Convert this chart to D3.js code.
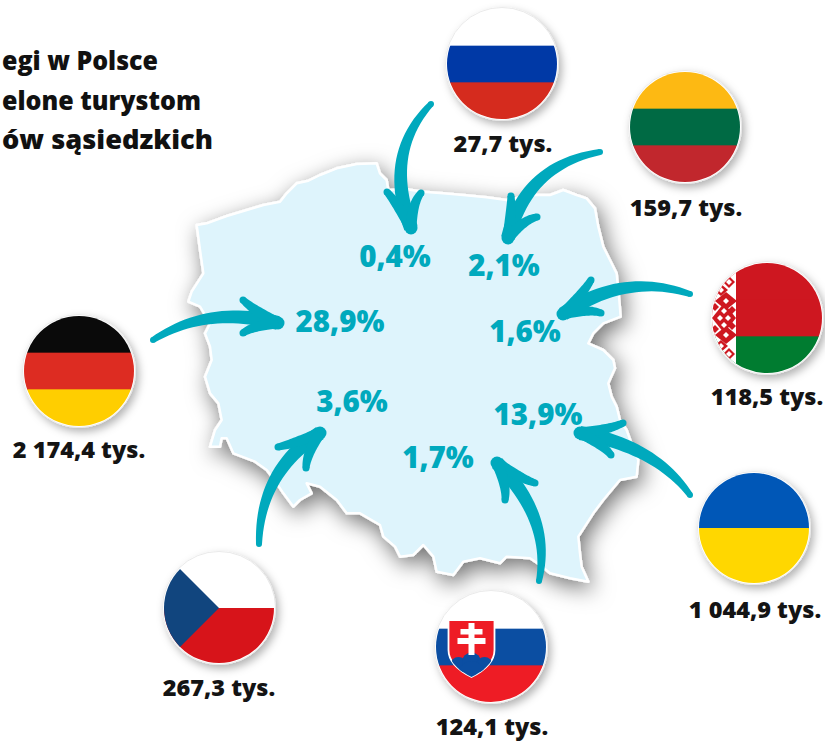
<!DOCTYPE html>
<html>
<head>
<meta charset="utf-8">
<script src="https://cdn.jsdelivr.net/npm/d3@7"></script>
<style>
  html, body { margin: 0; padding: 0; background: #fff; overflow: hidden; }
  text { font-family: "Open Sans", "Noto Sans", sans-serif; font-weight: 800; }
</style>
</head>
<body>
<script>
const width = 825;
const height = 743;

const countries = ['Rosja', 'Litwa', 'Białoruś', 'Ukraina', 'Słowacja', 'Czechy', 'Niemcy'];
const guests = [27.7, 159.7, 118.5, 1044.9, 124.1, 267.3, 2174.4]; // tys.
const shares = [0.4, 2.1, 1.6, 13.9, 1.7, 3.6, 28.9]; // %
const titleLines = ['egi w Polsce', 'elone turystom', 'ów sąsiedzkich'];

const flagColours = [
  ['#ffffff', '#0039a6', '#d52b1e'],
  ['#fdb913', '#006a44', '#c1272d'],
  ['#ce1720', '#ce1720', '#007c30'],
  ['#0057b7', '#ffd700'],
  ['#ffffff', '#0b4ea2', '#ee1c25'],
  ['#ffffff', '#d7141a'],
  ['#0a0a0a', '#dd2c22', '#ffce00']
];

// border of Poland
const outline = [
  [50,195],[80,190],[140,168],[200,150],[250,135],[300,125],[320,100],[350,70],[385,62],[420,45],[470,25],[530,12],[590,10],
  [600,40],[620,60],[625,90],[680,88],[730,95],[790,100],[850,105],[920,112],[980,120],[1060,105],[1110,105],[1150,90],[1190,105],[1220,115],
  [1245,145],[1255,200],[1270,260],[1290,300],[1310,340],[1318,420],[1322,470],[1270,490],[1240,520],[1225,550],[1270,570],
  [1300,600],[1305,625],[1285,670],[1295,710],[1310,740],[1320,780],[1340,810],[1358,860],[1375,900],[1370,950],[1320,960],
  [1270,1020],[1240,1060],[1195,1130],[1200,1180],[1205,1220],[1225,1265],[1170,1255],[1110,1240],[1080,1215],[1050,1195],[980,1190],[960,1210],
  [900,1195],[850,1205],[820,1245],[770,1235],[760,1190],[730,1155],[700,1185],[660,1190],[645,1160],[610,1130],[600,1095],
  [540,1060],[500,1060],[470,1020],[420,980],[380,970],[395,1000],[360,1020],[340,1040],[310,1000],[290,970],[260,930],
  [225,905],[160,880],[140,835],[125,835],[120,860],[90,860],[105,810],[125,780],[115,730],[90,700],[75,650],[95,600],
  [90,560],[75,520],[90,490],[60,440],[25,425],[35,395],[70,340],[60,270],[50,195]
];

// page layout, same order as countries
const flagCentres = [[502,64],[685,127],[767,318],[754,528],[491,647],[219,608],[79,371]];
const guestAnchors = [[503,152],[686,216],[767,405],[755,618],[492,735],[219,696],[79,458]];
const shareAnchors = [[395,267],[504,276],[525,342],[538,425],[438,468],[352,412],[340,332]];
const arrowTails = [[431,104],[600,152],[690,294],[690,495],[539,581],[259,544],[153,340]];
const arrowBends = [[383,154],[526,165],[624,272],[655,446],[552,518],[260,471],[208,305]];
const arrowTips = [[411,228],[508,238],[563,314],[580,433],[497,463],[320,433],[278,323]];
const barbEnds = [
  [[387,192],[421,193]],
  [[511,196],[537,217]],
  [[591,280],[601,313]],
  [[623,423],[611,455]],
  [[535,483],[505,500]],
  [[278,447],[306,468]],
  [[243,300],[243,333]]
];
const titleWidths = [156, 199, 211];

const teal = '#00a9bd';
const ink = '#141414';
const flagR = 55;

const pl = d3.formatLocale({ decimal: ',', thousands: ' ', grouping: [3], currency: ['', ''] });
const fmt = pl.format(',.1f');

const svg = d3.select('body').append('svg')
    .attr('width', width)
    .attr('height', height)
    .attr('viewBox', [0, 0, width, height]);

const defs = svg.append('defs');

defs.append('filter').attr('id', 'mapShadow')
    .attr('x', '-20%').attr('y', '-20%').attr('width', '140%').attr('height', '140%')
  .append('feDropShadow')
    .attr('dx', 4).attr('dy', 7).attr('stdDeviation', 11)
    .attr('flood-color', '#000').attr('flood-opacity', 0.55);

defs.append('filter').attr('id', 'flagShadow')
    .attr('x', '-30%').attr('y', '-30%').attr('width', '160%').attr('height', '160%')
  .append('feDropShadow')
    .attr('dx', 3).attr('dy', 4).attr('stdDeviation', 4)
    .attr('flood-color', '#000').attr('flood-opacity', 0.3);

// map
const mapX = d3.scaleLinear().domain([0, 1410]).range([180, 650]);
const mapY = d3.scaleLinear().domain([0, 1290]).range([160, 590]);
const mapLine = d3.line().x((d) => mapX(d[0])).y((d) => mapY(d[1]));

svg.append('path')
    .attr('d', mapLine(outline) + 'Z')
    .attr('fill', '#def4fc')
    .attr('stroke', '#fff')
    .attr('stroke-width', 2.5)
    .attr('stroke-linejoin', 'round')
    .attr('filter', 'url(#mapShadow)');

// title, kept just inside the left edge
svg.append('g').selectAll('text')
  .data(titleLines)
  .join('text')
    .attr('x', 2)
    .attr('y', (d, i) => 70 + i * 39.5)
    .attr('textLength', (d, i) => titleWidths[i])
    .attr('lengthAdjust', 'spacingAndGlyphs')
    .attr('font-size', 26.5)
    .attr('fill', '#111')
    .text((d) => d);

// flags
const flags = svg.append('g').selectAll('g')
  .data(countries)
  .join('g')
    .attr('transform', (d, i) => `translate(${flagCentres[i]})`);

flags.append('circle')
    .attr('r', flagR + 1.5)
    .attr('fill', '#fff')
    .attr('stroke', '#e2e2e2')
    .attr('stroke-width', 0.7)
    .attr('filter', 'url(#flagShadow)');

defs.append('clipPath').attr('id', 'flagClip')
  .append('circle').attr('r', flagR);

const flagInner = flags.append('g').attr('clip-path', 'url(#flagClip)');

flagInner.each(function (name, i) {
  const bandY = d3.scaleBand()
      .domain(d3.range(flagColours[i].length))
      .range([-flagR, flagR]);
  d3.select(this).selectAll('rect.band')
    .data(flagColours[i])
    .join('rect')
      .attr('class', 'band')
      .attr('x', -flagR)
      .attr('width', 2 * flagR)
      .attr('y', (c, k) => bandY(k))
      .attr('height', bandY.bandwidth() + 0.7)
      .attr('fill', (c) => c);
});

// czech wedge
flagInner.filter((d) => d === 'Czechy').append('path')
    .attr('d', `M${-flagR},${-flagR}L0,0L${-flagR},${flagR}Z`)
    .attr('fill', '#11457e');

// belarus ornament strip
const ornament = flagInner.filter((d) => d === 'Białoruś').append('g');
ornament.append('rect')
    .attr('x', -flagR).attr('y', -flagR)
    .attr('width', 24).attr('height', 2 * flagR)
    .attr('fill', '#fff');
const diamond = (cx, cy, rx, ry) => `M${cx},${cy - ry}L${cx + rx},${cy}L${cx},${cy + ry}L${cx - rx},${cy}Z`;
const ornamentCx = -43;
ornament.selectAll('path.big')
  .data([[0, -45, 7, 6], [5, -36, 6, 6], [-3, -28, 7, 6], [2, -17, 11, 9], [0, 0, 12, 15], [2, 17, 11, 9], [-3, 28, 7, 6], [5, 36, 6, 6], [0, 45, 7, 6], [8, -8, 4, 4], [8, 8, 4, 4], [-9, -11, 4, 4], [-9, 11, 4, 4]])
  .join('path')
    .attr('class', 'big')
    .attr('d', (d) => diamond(ornamentCx + d[0], d[1], d[2], d[3]))
    .attr('fill', '#ce1720');
ornament.selectAll('path.small')
  .data([[0, -45], [5, -36], [-3, -28], [2, -17], [-4, 0], [4, 0], [0, -7], [0, 7], [2, 17], [-3, 28], [5, 36], [0, 45]])
  .join('path')
    .attr('class', 'small')
    .attr('d', (d) => diamond(ornamentCx + d[0], d[1], 3, 3))
    .attr('fill', '#fff');

// slovak shield
const shield = flagInner.filter((d) => d === 'Słowacja').append('g')
    .attr('transform', 'translate(-19.5,1)');
const shieldPath = 'M-23,-28L23,-28L23,2C23,15 10,24 0,29C-10,24 -23,15 -23,2Z';
shield.append('path')
    .attr('d', shieldPath)
    .attr('fill', '#ee1c25')
    .attr('stroke', '#fff')
    .attr('stroke-width', 1.8);
defs.append('clipPath').attr('id', 'shieldClip')
  .append('path').attr('d', shieldPath);
shield.append('g').attr('clip-path', 'url(#shieldClip)')
  .selectAll('circle')
  .data([[-13, 17, 8], [0, 14, 9.5], [13, 17, 8], [0, 26, 13]])
  .join('circle')
    .attr('cx', (d) => d[0])
    .attr('cy', (d) => d[1])
    .attr('r', (d) => d[2])
    .attr('fill', '#0b4ea2');
shield.selectAll('rect.cross')
  .data([[-3, -25, 6, 32], [-11, -19, 22, 5.5], [-14, -10, 28, 6]])
  .join('rect')
    .attr('class', 'cross')
    .attr('x', (d) => d[0])
    .attr('y', (d) => d[1])
    .attr('width', (d) => d[2])
    .attr('height', (d) => d[3])
    .attr('fill', '#fff');

// tapered arrows: a quadratic centre line thickened from w0 to w1
function taper (p0, c, p1, w0, w1) {
  const ts = d3.range(0, 1.0001, 1 / 24);
  const pts = ts.map((t) => {
    const a = (1 - t) * (1 - t);
    const b = 2 * t * (1 - t);
    const e = t * t;
    const dx = 2 * (1 - t) * (c[0] - p0[0]) + 2 * t * (p1[0] - c[0]);
    const dy = 2 * (1 - t) * (c[1] - p0[1]) + 2 * t * (p1[1] - c[1]);
    const len = Math.hypot(dx, dy) || 1;
    return {
      x: a * p0[0] + b * c[0] + e * p1[0],
      y: a * p0[1] + b * c[1] + e * p1[1],
      nx: -dy / len,
      ny: dx / len,
      w: (w0 + (w1 - w0) * Math.sin(t * Math.PI / 2)) / 2
    };
  });
  const left = pts.map((d) => [d.x + d.nx * d.w, d.y + d.ny * d.w]);
  const right = pts.map((d) => [d.x - d.nx * d.w, d.y - d.ny * d.w]).reverse();
  return d3.line().curve(d3.curveLinear)(left.concat(right)) + 'Z';
}

const arrows = svg.append('g').attr('fill', teal).selectAll('g')
  .data(countries)
  .join('g');

arrows.append('path')
    .attr('d', (d, i) => taper(arrowTails[i], arrowBends[i], arrowTips[i], 6, 14));
arrows.append('circle')
    .attr('cx', (d, i) => arrowTails[i][0])
    .attr('cy', (d, i) => arrowTails[i][1])
    .attr('r', 3);
arrows.append('circle')
    .attr('cx', (d, i) => arrowTips[i][0])
    .attr('cy', (d, i) => arrowTips[i][1])
    .attr('r', 6.5);

arrows.each(function (name, i) {
  const g = d3.select(this);
  const tip = arrowTips[i];
  barbEnds[i].forEach((end) => {
    // barbs bow in towards the shaft
    const s = arrowBends[i];
    const mid = [(end[0] + tip[0]) / 2, (end[1] + tip[1]) / 2];
    const bow = [mid[0] + (s[0] - mid[0]) * 0.12, mid[1] + (s[1] - mid[1]) * 0.12];
    g.append('path').attr('d', taper(end, bow, tip, 7, 11));
    g.append('circle').attr('cx', end[0]).attr('cy', end[1]).attr('r', 3.5);
  });
});

// labels
svg.append('g').selectAll('text')
  .data(guests)
  .join('text')
    .attr('x', (d, i) => guestAnchors[i][0])
    .attr('y', (d, i) => guestAnchors[i][1])
    .attr('text-anchor', 'middle')
    .attr('font-size', 23.5)
    .attr('fill', ink)
    .text((d) => fmt(d) + ' tys.');

svg.append('g').selectAll('text')
  .data(shares)
  .join('text')
    .attr('x', (d, i) => shareAnchors[i][0])
    .attr('y', (d, i) => shareAnchors[i][1])
    .attr('text-anchor', 'middle')
    .attr('font-size', 29.5)
    .attr('fill', teal)
    .text((d) => fmt(d) + '%');
</script>
</body>
</html>
